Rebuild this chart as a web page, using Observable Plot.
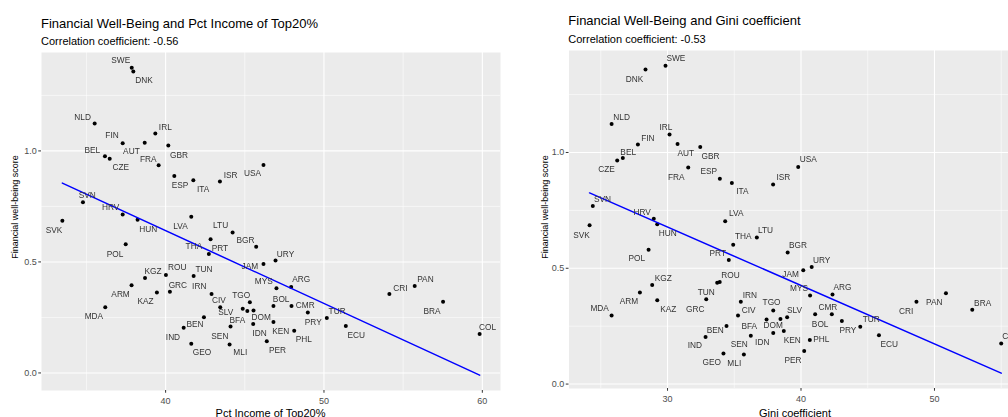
<!DOCTYPE html>
<html><head><meta charset="utf-8">
<script src="https://cdn.jsdelivr.net/npm/d3@7"></script>
<script src="https://cdn.jsdelivr.net/npm/@observablehq/plot@0.6"></script>
<style>
html,body{margin:0;padding:0;background:#fff;}
body{width:1008px;height:417px;overflow:hidden;position:relative;font-family:"Liberation Sans",Arial,sans-serif;}
.panel{position:absolute;top:0;}
.panel svg{max-width:none !important;}
#overlay{position:absolute;left:0;top:0;pointer-events:none;}
#overlay text{font-family:"Liberation Sans",Arial,sans-serif;fill:#000;}
.panel g[aria-label="text"]{filter:url(#gray);}
</style></head><body>
<div id="left" class="panel" style="left:0px;width:505px"></div>
<div id="right" class="panel" style="left:510px;width:517px"></div>
<svg id="overlay" width="1008" height="417">
  <defs><filter id="gray" x="-50%" y="-50%" width="200%" height="200%"><feColorMatrix type="saturate" values="0"/></filter></defs>
  <text x="41" y="27.7" font-size="13">Financial Well-Being and Pct Income of Top20%</text>
  <text x="41" y="45" font-size="11">Correlation coefficient: -0.56</text>
  <text x="568.3" y="25" font-size="13">Financial Well-Being and Gini coefficient</text>
  <text x="568.3" y="42.7" font-size="11">Correlation coefficient: -0.53</text>
  <text transform="translate(15,207) rotate(-90)" text-anchor="middle" dominant-baseline="central" font-size="9">Financial well-being score</text>
  <text transform="translate(544.5,207) rotate(-90)" text-anchor="middle" dominant-baseline="central" font-size="9">Financial well-being score</text>
  <text x="270.5" y="416.5" text-anchor="middle" font-size="11">Pct Income of Top20%</text>
  <text x="795" y="416.5" text-anchor="middle" font-size="11">Gini coefficient</text>
</svg>
<script>
// ---- data ----
const countries = ["SWE","DNK","NLD","FIN","AUT","IRL","GBR","BEL","CZE","FRA","ESP","ITA","ISR","USA","SVN","SVK","HRV","HUN","LVA","LTU","BGR","POL","THA","PRT","URY","JAM","KGZ","ROU","TUN","MYS","ARG","ARM","GRC","KAZ","IRN","CIV","TGO","SLV","BFA","DOM","BOL","CMR","PRY","TUR","ECU","BEN","IND","SEN","IDN","KEN","PHL","PER","GEO","MLI","MDA","CRI","PAN","BRA","COL"];
const pctTop20 = [37.86,37.96,35.52,37.29,38.68,39.35,40.17,36.17,36.47,39.56,40.55,41.75,43.43,46.18,34.78,33.48,37.29,38.23,41.62,44.23,45.72,37.48,42.84,42.73,46.94,46.18,38.70,40.02,41.77,47.00,47.93,37.85,40.27,39.45,42.90,43.45,45.32,44.87,45.16,45.55,46.81,47.95,48.98,50.18,51.38,42.42,41.14,44.10,45.53,46.81,48.12,46.39,41.62,44.04,36.19,54.13,55.73,57.52,59.83];
const giniCoef = [29.85,28.35,25.81,27.78,30.75,30.15,32.45,26.65,26.23,31.55,33.92,34.82,37.91,39.79,24.40,24.16,28.97,29.23,34.32,36.69,39.00,28.58,34.92,34.59,40.80,40.17,28.85,33.91,33.72,40.68,42.36,27.93,32.90,29.23,35.49,35.28,37.92,38.96,37.42,38.46,41.06,42.31,43.06,44.44,45.84,34.42,32.85,36.24,37.92,38.71,40.66,40.24,34.19,35.72,25.81,48.65,50.86,52.83,55.00];
const wellBeing = [1.374,1.358,1.123,1.034,1.037,1.078,1.024,0.976,0.965,0.935,0.887,0.868,0.862,0.937,0.769,0.686,0.714,0.690,0.703,0.633,0.568,0.580,0.602,0.536,0.506,0.491,0.428,0.441,0.437,0.382,0.387,0.395,0.366,0.362,0.355,0.296,0.318,0.289,0.279,0.281,0.302,0.301,0.272,0.248,0.211,0.251,0.203,0.209,0.221,0.229,0.190,0.143,0.132,0.128,0.296,0.355,0.392,0.321,0.175];
const xTicksTop20 = [40,50,60], xMinorTop20 = [35,45,55];
const xTicksGini = [30,40,50], xMinorGini = [25,35,45,55];
const yTicks = [0,0.5,1.0], yMinor = [0.25,0.75,1.25];

// ---- label layout (pixel nudges, mimicking repelled labels) ----
const nudgeTop20 = {SWE:[-11,-7.6],DNK:[10.7,9.3],NLD:[-12,-6.7],FIN:[-10.7,-7.7],AUT:[-13.3,8.3],IRL:[10,-6],GBR:[10.7,9.3],BEL:[-12.7,-6],CZE:[11,9],FRA:[-10.3,-5.7],ESP:[5.7,9.3],ITA:[9.7,9],ISR:[10.7,-6.7],USA:[-11,8.7],SVN:[4.3,-7.3],SVK:[-8.3,10],HRV:[-12,-6.7],HUN:[10.7,9.3],LVA:[-10.7,9],LTU:[-12,-7],BGR:[-10.7,-6.7],POL:[-10.7,9.7],THA:[-16.7,7],PRT:[11,-6],URY:[10,-6.7],JAM:[-13.7,2],KGZ:[8,-6.7],ROU:[11.3,-7.7],TUN:[10.3,-7],MYS:[-12.7,-6.7],ARG:[10,-7.3],ARM:[-11,9],GRC:[8,-6.7],KAZ:[-11.3,9],IRN:[-12.3,-7.6],CIV:[-1.4,-6.8],TGO:[-8.6,-7.3],SLV:[-17,3.4],BFA:[-10,9.4],DOM:[7.7,6.3],BOL:[7.7,-7],CMR:[13.7,-1],PRY:[5.4,9.7],TUR:[10.3,-6.6],ECU:[10.4,9.3],BEN:[-9,7.4],IND:[-10.7,9],SEN:[-10.7,10],IDN:[6.3,9.7],KEN:[7.3,9],PHL:[9.6,9],PER:[10.7,9.4],GEO:[10.7,9],MLI:[10.7,8],MDA:[-11.4,9],CRI:[11,-6],PAN:[10.7,-7],BRA:[-11,9.7],COL:[8,-7]};
const nudgeGini = {SWE:[10.3,-7.7],DNK:[-11,9.4],NLD:[10,-6.7],IRL:[-3.7,-6.7],FIN:[10,-6.7],AUT:[8.3,9],GBR:[10.3,9.3],BEL:[5.4,-6],CZE:[-10.7,9],FRA:[-12,9.4],ESP:[-11,-7],ITA:[10.4,8.3],SVN:[9.7,-6.4],SVK:[-8,10],HRV:[-11.6,-6.7],HUN:[10.6,9],LVA:[11,-7.6],THA:[10,-8.3],LTU:[8.7,-7.3],PRT:[-11,-7],BGR:[10.3,-7.3],POL:[-11.7,9],KGZ:[11,-7],ROU:[10.7,-7],TUN:[-11,9.7],GRC:[-11,9.7],ARM:[-11,9],KAZ:[11,9],MDA:[-12,-7],IRN:[9,-7],CIV:[10.7,-5.3],JAM:[-12.7,3.7],URY:[10,-7],USA:[10,-8],ISR:[10.3,-7],MYS:[-11,-7.4],ARG:[10,-7],TGO:[-1.7,-8.3],SLV:[7.3,-6.7],BFA:[-17.3,6.4],DOM:[-7.3,6.6],IDN:[-11,9.4],KEN:[8.4,9.3],PHL:[11.4,-1],PER:[-11.3,9],SEN:[-11.6,8.6],MLI:[-9.6,9.3],GEO:[-11.7,9.3],BEN:[-11.3,4.3],IND:[-10.7,8.7],CMR:[-4,-6.7],BOL:[5,10],PRY:[6,9],TUR:[11,-7],ECU:[10.3,9.3],CRI:[-10.4,9],PAN:[-11.7,9.4],BRA:[10.4,-6.6],COL:[9.5,-7.6]};

const FONT = "Liberation Sans, Arial, sans-serif";

function fit(xs, ys) {
  const mx = d3.mean(xs), my = d3.mean(ys);
  let sxy = 0, sxx = 0;
  xs.forEach((x, i) => { sxy += (x - mx) * (ys[i] - my); sxx += (x - mx) ** 2; });
  const b = sxy / sxx; return [my - b * mx, b];
}
function expand([a, b]) { const p = (b - a) * 0.05; return [a - p, b + p]; }

function panel(xs, nudges, opts) {
  const rows = countries.map((c, i) => ({code: c, x: xs[i], y: wellBeing[i]}));
  const xExt = d3.extent(xs);
  const [a, b] = fit(xs, wellBeing);
  const yExt = d3.extent(wellBeing.concat([a + b * xExt[0], a + b * xExt[1]]));
  const labelMarks = rows.map(d => {
    const n = nudges[d.code] || [0, 0];
    return Plot.text([d], {x: "x", y: "y", text: "code", dx: n[0], dy: n[1], fontSize: 8.3, fill: "#333", fontFamily: FONT});
  });
  return Plot.plot({
    width: opts.width, height: 417,
    marginLeft: opts.marginLeft, marginRight: opts.marginRight,
    marginTop: opts.marginTop, marginBottom: opts.marginBottom,
    style: {fontFamily: FONT, background: "#fff", overflow: "visible"},
    x: {domain: expand(xExt), label: null},
    y: {domain: expand(yExt), label: null},
    marks: [
      Plot.frame({fill: "#EBEBEB", stroke: "none"}),
      Plot.ruleX(opts.minorX, {stroke: "white", strokeWidth: 0.55}),
      Plot.ruleY(yMinor, {stroke: "white", strokeWidth: 0.55}),
      Plot.ruleX(opts.majorX, {stroke: "white", strokeWidth: 1.1}),
      Plot.ruleY(yTicks, {stroke: "white", strokeWidth: 1.1}),
      Plot.axisX({ticks: opts.majorX, tickSize: 2.75, tickPadding: 4, fontSize: 9, stroke: "#333", fill: "#4D4D4D", label: null}),
      Plot.axisY({ticks: yTicks, tickSize: 2.75, tickPadding: 2, fontSize: 9, stroke: "#333", fill: "#4D4D4D", label: null, tickFormat: d3.format(".1f")}),
      Plot.dot(rows, {x: "x", y: "y", r: 2, fill: "black", stroke: "none"}),
      Plot.linearRegressionY(rows, {x: "x", y: "y", stroke: "blue", strokeWidth: 1.5, ci: 0}),
      ...labelMarks
    ]
  });
}

document.getElementById("left").appendChild(panel(pctTop20, nudgeTop20, {
  width: 505, marginLeft: 41, marginRight: 5, marginTop: 52, marginBottom: 27,
  majorX: xTicksTop20, minorX: xMinorTop20
}));
document.getElementById("right").appendChild(panel(giniCoef, nudgeGini, {
  width: 517, marginLeft: 58.5, marginRight: 5.7, marginTop: 50, marginBottom: 29,
  majorX: xTicksGini, minorX: xMinorGini
}));
</script>
</body></html>
